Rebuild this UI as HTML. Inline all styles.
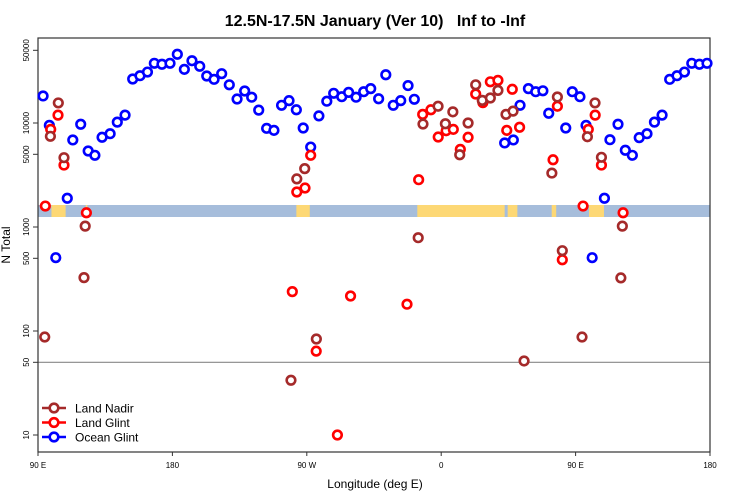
<!DOCTYPE html>
<html><head><meta charset="utf-8"><style>
html,body{margin:0;padding:0;background:#fff;}
svg{display:block;font-family:"Liberation Sans",sans-serif;}
</style></head><body>
<svg id="chart" width="750" height="500" viewBox="0 0 750 500">
<text x="375" y="26" text-anchor="middle" font-size="16" font-weight="bold" style="white-space:pre">12.5N-17.5N January (Ver 10)   Inf to -Inf</text>
<text x="375" y="488" text-anchor="middle" font-size="12">Longitude (deg E)</text>
<text transform="translate(10,245) rotate(-90)" text-anchor="middle" font-size="12">N Total</text>
<g id="strip"></g>
<g id="axes"></g>
<g id="marks"></g>
<g id="legend"></g>
</svg>
<script>
const xTickVals = [90, 180, 270, 360, 450, 540];
const xTickLabels = ["90 E", "180", "90 W", "0", "90 E", "180"];
const yTickVals = [10, 50, 100, 500, 1000, 5000, 10000, 50000];
const seriesNames = ["Land Nadir", "Land Glint", "Ocean Glint"];

const oceanLon = [93.4,97.6,118.6,113.3,109.6,123.6,128.1,132.9,138.3,143.1,148.3,153.4,158.3,163.3,167.9,173.0,178.4,183.3,188.0,193.1,198.3,203.0,207.9,213.0,218.1,223.3,228.4,233.1,237.8,243.1,248.0,253.1,258.1,263.0,267.6,272.6,278.1,283.4,288.0,293.4,298.0,303.0,308.1,312.8,318.1,322.9,327.9,332.9,337.8,342.0,402.5,408.3,412.8,418.4,423.3,428.1,432.0,443.4,447.8,452.9,457.0,461.1,469.3,473.0,478.4,483.3,488.0,492.6,497.8,502.8,507.9,513.0,517.9,522.9,527.8,532.9,538.0,101.9];
const oceanVal = [18200,9500,9730,6870,1890,5380,4890,7290,7890,10200,11900,26500,28500,30900,37500,36700,37500,45800,32800,39700,35100,28300,26300,29800,23300,17000,20300,17700,13300,8890,8500,14800,16400,13400,8950,5870,11700,16200,19300,17900,19700,17700,20000,21400,17100,29100,14800,16400,22900,16900,6430,6870,14800,21400,20000,20400,12400,8950,20000,17900,9500,507,1890,6910,9730,5470,4890,7230,7890,10200,11900,26300,28500,30900,37500,36700,37500,507];

const glintLon = [94.9,98.5,103.4,107.4,122.4,260.3,263.3,268.8,272.6,276.3,290.5,299.3,337.1,344.9,347.6,353.1,358.0,363.3,368.1,372.8,378.0,383.1,387.9,392.9,398.0,403.9,407.6,412.5,434.9,437.8,441.1,455.0,458.5,463.1,467.3,481.8];
const glintVal = [1590,8690,11900,3940,1370,239,2170,2370,4890,64,10,217,181,2850,12100,13400,7330,8430,8690,5580,7290,19000,15700,24900,25700,8500,21100,9100,4430,14500,484,1590,8690,11900,3940,1370];

const nadirLon = [94.5,98.3,103.6,107.4,120.8,121.6,259.4,263.3,268.6,276.4,344.6,347.8,357.9,362.8,367.8,372.4,378.0,383.1,387.5,392.9,398.0,403.4,408.1,415.5,434.1,437.8,441.1,454.3,457.9,463.0,467.3,480.3,481.3];
const nadirVal = [87.5,7450,15600,4640,326,1020,33.6,2900,3640,83.8,789,9770,14500,9840,12800,4950,10000,23300,16500,17400,20600,12100,13000,51.5,3300,17800,592,87.5,7380,15600,4680,324,1020];

// land segments in strip (lon start, lon end)
const landStart = [99,122,263,344,404.5,434,459];
const landEnd   = [108.5,123,272,402.5,411,437,469];

const L=38,R=710,T=38,B=452;
const NS="http://www.w3.org/2000/svg";
function xs(lon){return L+(lon-90)*(R-L)/450;}
function ys(v){return 435-(Math.log10(v)-1)*104;}
function mk(tag,attrs,parent){const e=document.createElementNS(NS,tag);for(const k in attrs)e.setAttribute(k,attrs[k]);parent.appendChild(e);return e;}

const strip=document.getElementById('strip');
const band=mk('rect',{x:L,y:205,width:R-L,height:12,fill:'#a6bddb'},strip);


for(let i=0;i<landStart.length;i++){
  const r=mk('rect',{x:xs(landStart[i]),y:205,width:xs(landEnd[i])-xs(landStart[i]),height:12,fill:'#fdd875'},strip);
  
  
}

const axes=document.getElementById('axes');
const ref=mk('line',{x1:L,x2:R,y1:ys(50),y2:ys(50),stroke:'#888',"stroke-width":1.2},axes);


const box=mk('rect',{x:L,y:T,width:R-L,height:B-T,fill:'none',stroke:'#333',"stroke-width":1.2},axes);


yTickVals.forEach(v=>{
  const y=ys(v);
  const t=mk('line',{x1:L-5,x2:L,y1:y,y2:y,stroke:'#333'},axes);
  
  
  const tx=mk('text',{transform:`translate(29,${y}) rotate(-90)`,"text-anchor":"middle","font-size":8},axes);
  
  
  tx.textContent=v;
});
xTickVals.forEach((lon,i)=>{
  const x=xs(lon);
  const t=mk('line',{x1:x,x2:x,y1:B,y2:B+4,stroke:'#333'},axes);
  
  
  const tx=mk('text',{x:x,y:468,"text-anchor":"middle","font-size":8},axes);
  
  
  tx.textContent=xTickLabels[i];
});

const marks=document.getElementById('marks');
function plot(lons,vals,color,name){
  for(let i=0;i<lons.length;i++){
    const c=mk('circle',{cx:xs(lons[i]),cy:ys(vals[i]),r:4.3,fill:'#fff',stroke:color,"stroke-width":2.6},marks);
    
    
  }
}
plot(oceanLon,oceanVal,'#0000ff','ocean-glint-point');
plot(glintLon,glintVal,'#ff0000','land-glint-point');
plot(nadirLon,nadirVal,'#a52a2a','land-nadir-point');

const legend=document.getElementById('legend');
const lcol=['#a52a2a','#ff0000','#0000ff'];
seriesNames.forEach((n,i)=>{
  const y=408+i*14.5;
  const g=mk('g',{},legend);
  
  
  mk('line',{x1:42,x2:66,y1:y,y2:y,stroke:lcol[i],"stroke-width":2.6},g);
  mk('circle',{cx:54,cy:y,r:4.3,fill:'#fff',stroke:lcol[i],"stroke-width":2.6},g);
  const t=mk('text',{x:75,y:y+4.5,"font-size":12},g);
  t.textContent=n;
});
</script>
</body></html>
